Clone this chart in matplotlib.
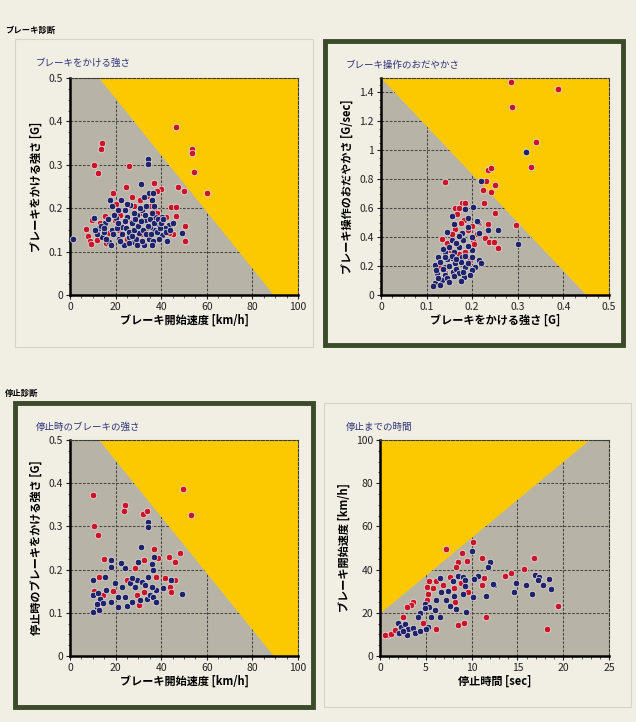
import matplotlib.pyplot as plt
from matplotlib.patches import Rectangle
from matplotlib.ticker import MultipleLocator, FormatStrFormatter

plt.rcParams["font.family"] = ["Noto Sans CJK JP", "DejaVu Sans"]

# ブレーキをかける強さ : speed [km/h] vs brake G
tl_red_speed = [46.7, 53.6, 53.3, 54.5, 59.9, 14.2, 13.4, 10.5, 12.3, 25.7, 47.2, 50.1, 36.9, 40.1, 24.5,
                18.7, 44.1, 46.7, 50.5, 50.5, 45.0, 6.9, 8.0, 8.8, 9.2, 27.2, 30.9, 38.2, 33.8, 36.7, 46.6,
                9.6, 15.2, 19.9, 24.3, 26.9, 30.9, 40.4, 43.3, 21.4, 17.0, 33.8, 29.9, 11.9, 35.0, 28.0,
                22.0, 13.0, 38.0, 42.0, 16.0, 25.0, 31.0, 20.0, 44.0]
tl_red_g = [0.387, 0.337, 0.328, 0.284, 0.234, 0.351, 0.337, 0.300, 0.281, 0.297, 0.248, 0.240, 0.257, 0.245,
            0.249, 0.234, 0.203, 0.203, 0.159, 0.125, 0.140, 0.153, 0.136, 0.125, 0.117, 0.225, 0.220, 0.240,
            0.228, 0.198, 0.181, 0.172, 0.182, 0.173, 0.196, 0.169, 0.188, 0.165, 0.142, 0.150, 0.142, 0.154,
            0.122, 0.126, 0.205, 0.205, 0.185, 0.165, 0.190, 0.180, 0.120, 0.130, 0.140, 0.210, 0.160]
tl_blue_speed = [1.2, 34.2, 34.2, 31.1, 17.7, 18.4, 22.5, 26.5, 31.6, 35.9, 34.8, 40.4, 43.3, 10.4, 15.5,
                 12.6, 18.4, 22.8, 27.2, 33.0, 37.4, 38.9, 30.1, 25.7, 21.4, 17.0, 34.5, 40.4, 14.0, 32.3,
                 23.5, 27.9, 36.7, 29.4, 25.0, 20.0, 14.8, 35.2, 41.8, 49.1, 42.6, 12.0, 13.5, 16.0, 19.0,
                 20.5, 21.0, 23.0, 24.0, 24.5, 26.0, 26.0, 28.0, 28.5, 29.0, 30.0, 31.0, 31.5, 32.0, 33.0,
                 33.5, 34.0, 35.0, 35.5, 36.0, 36.5, 37.0, 38.0, 38.5, 39.0, 39.5, 40.0, 41.0, 42.0, 44.0,
                 45.0, 30.5, 28.0, 33.5, 37.0, 25.0, 21.0, 19.5, 16.5, 15.0, 11.0, 27.0, 22.0, 18.0, 29.5,
                 36.0, 24.0, 32.5, 36.5]
tl_blue_g = [0.128, 0.313, 0.301, 0.255, 0.219, 0.204, 0.219, 0.207, 0.196, 0.219, 0.234, 0.180, 0.161,
             0.177, 0.165, 0.154, 0.150, 0.157, 0.165, 0.172, 0.180, 0.161, 0.142, 0.134, 0.130, 0.122,
             0.130, 0.138, 0.134, 0.115, 0.115, 0.122, 0.150, 0.184, 0.180, 0.177, 0.146, 0.157, 0.154,
             0.142, 0.125, 0.140, 0.160, 0.130, 0.140, 0.155, 0.165, 0.140, 0.170, 0.155, 0.145, 0.120,
             0.150, 0.175, 0.130, 0.160, 0.170, 0.125, 0.150, 0.185, 0.140, 0.160, 0.175, 0.140, 0.190,
             0.125, 0.165, 0.145, 0.175, 0.130, 0.155, 0.165, 0.175, 0.145, 0.150, 0.165, 0.200, 0.190,
             0.205, 0.205, 0.210, 0.195, 0.185, 0.175, 0.155, 0.150, 0.135, 0.125, 0.115, 0.115, 0.115,
             0.195, 0.225, 0.235]

# ブレーキ操作のおだやかさ : brake G vs G/sec
tr_red_g = [0.284, 0.287, 0.389, 0.341, 0.328, 0.141, 0.235, 0.242, 0.231, 0.251, 0.242, 0.223, 0.225,
            0.251, 0.297, 0.235, 0.257, 0.229, 0.237, 0.247, 0.177, 0.184, 0.162, 0.166, 0.183, 0.162,
            0.133, 0.202, 0.151, 0.195, 0.170, 0.175, 0.190, 0.200, 0.155, 0.210, 0.145, 0.170, 0.130,
            0.160, 0.185, 0.140, 0.125, 0.205, 0.215]
tr_red_rate = [1.473, 1.298, 1.427, 1.055, 0.885, 0.778, 0.865, 0.878, 0.790, 0.760, 0.711, 0.723, 0.635,
               0.570, 0.485, 0.490, 0.323, 0.393, 0.363, 0.363, 0.638, 0.638, 0.598, 0.558, 0.518, 0.454,
               0.390, 0.379, 0.311, 0.242, 0.600, 0.500, 0.450, 0.480, 0.420, 0.420, 0.360, 0.280, 0.200,
               0.220, 0.300, 0.150, 0.100, 0.350, 0.500]
tr_blue_g = [0.317, 0.220, 0.300, 0.257, 0.235, 0.213, 0.216, 0.184, 0.202, 0.156, 0.210, 0.191, 0.144,
             0.177, 0.155, 0.170, 0.140, 0.126, 0.155, 0.177, 0.199, 0.214, 0.118, 0.140, 0.162, 0.184,
             0.206, 0.122, 0.140, 0.158, 0.181, 0.118, 0.133, 0.115, 0.130, 0.145, 0.150, 0.165, 0.170,
             0.175, 0.190, 0.200, 0.160, 0.150, 0.135, 0.165, 0.180, 0.190, 0.200, 0.125, 0.145, 0.160,
             0.150, 0.130, 0.120, 0.135, 0.155, 0.170, 0.160, 0.190, 0.220, 0.195, 0.175, 0.140, 0.165,
             0.185, 0.200, 0.180]
tr_blue_rate = [0.986, 0.785, 0.353, 0.446, 0.450, 0.508, 0.427, 0.595, 0.606, 0.547, 0.511, 0.472, 0.438,
                0.426, 0.379, 0.334, 0.300, 0.265, 0.253, 0.265, 0.311, 0.242, 0.207, 0.196, 0.219, 0.196,
                0.196, 0.150, 0.139, 0.162, 0.127, 0.081, 0.104, 0.062, 0.230, 0.250, 0.200, 0.180, 0.150,
                0.230, 0.220, 0.260, 0.300, 0.330, 0.320, 0.360, 0.380, 0.340, 0.170, 0.120, 0.120, 0.130,
                0.090, 0.070, 0.170, 0.180, 0.270, 0.410, 0.490, 0.530, 0.220, 0.140, 0.100, 0.260, 0.250,
                0.270, 0.400, 0.160]

# 停止時のブレーキの強さ : speed [km/h] vs brake G at stop
bl_red_speed = [49.5, 53.0, 10.2, 10.5, 12.4, 24.1, 23.8, 31.8, 33.6, 36.9, 38.7, 32.6, 15.0, 43.5, 46.0,
                48.3, 28.5, 12.8, 18.7, 25.1, 37.9, 41.6, 46.0, 44.0, 44.5, 10.5, 14.6, 13.1, 29.2, 30.4,
                32.4]
bl_red_g = [0.386, 0.326, 0.373, 0.300, 0.281, 0.350, 0.336, 0.329, 0.336, 0.248, 0.226, 0.222, 0.225,
            0.230, 0.218, 0.239, 0.203, 0.182, 0.151, 0.176, 0.184, 0.180, 0.177, 0.160, 0.147, 0.151,
            0.141, 0.122, 0.141, 0.118, 0.149]
bl_blue_speed = [34.3, 34.3, 31.1, 36.8, 35.8, 18.2, 18.2, 22.2, 24.1, 30.0, 9.9, 15.3, 19.7, 22.6, 26.3,
                 29.6, 31.4, 34.3, 37.9, 40.9, 44.2, 49.2, 10.2, 12.4, 13.1, 15.8, 10.2, 11.7, 12.8, 14.3,
                 18.2, 21.2, 21.2, 24.1, 24.8, 27.4, 30.7, 33.6, 35.0, 36.5, 37.9, 28.5, 35.8, 36.5, 33.0,
                 27.0, 12.0]
bl_blue_g = [0.311, 0.298, 0.252, 0.230, 0.213, 0.222, 0.207, 0.216, 0.203, 0.218, 0.176, 0.182, 0.168,
             0.160, 0.170, 0.177, 0.172, 0.184, 0.153, 0.157, 0.177, 0.144, 0.141, 0.145, 0.133, 0.153,
             0.103, 0.114, 0.106, 0.123, 0.126, 0.136, 0.114, 0.136, 0.116, 0.126, 0.130, 0.131, 0.141,
             0.136, 0.126, 0.159, 0.159, 0.200, 0.165, 0.180, 0.120]

# 停止までの時間 : stop time [sec] vs speed [km/h]
br_red_time = [16.8, 15.7, 14.3, 13.6, 19.4, 18.2, 7.24, 10.1, 8.9, 8.5, 8.3, 9.5, 11.1, 11.4, 11.1, 8.8,
               7.6, 6.1, 6.9, 5.4, 5.1, 5.8, 8.1, 9.6, 5.2, 5.1, 3.6, 3.4, 2.9, 8.2, 2.5, 11.6, 6.1, 8.5,
               9.2, 4.7, 0.9, 0.5, 1.2, 1.6, 3.4]
br_red_speed = [45.5, 40.2, 38.3, 37.0, 23.1, 12.3, 49.4, 52.6, 47.5, 43.7, 41.4, 44.1, 45.2, 35.9, 32.9,
                34.0, 36.4, 34.5, 32.9, 34.5, 32.1, 31.3, 31.3, 29.8, 28.7, 25.7, 25.2, 23.6, 22.5, 25.2,
                17.9, 17.9, 12.5, 14.4, 15.5, 15.2, 9.7, 9.7, 10.4, 12.0, 12.3]
br_blue_time = [10.0, 12.0, 11.8, 12.4, 14.8, 14.6, 15.9, 16.6, 16.9, 17.4, 17.3, 17.8, 18.5, 18.7, 10.7,
                10.3, 12.3, 8.5, 9.1, 9.3, 8.0, 6.5, 6.7, 7.4, 9.3, 8.1, 9.1, 10.2, 11.6, 6.1, 4.9, 5.4,
                4.9, 7.2, 7.6, 8.3, 6.0, 4.4, 4.1, 5.6, 6.5, 9.4, 5.2, 2.0, 2.3, 2.7, 3.1, 2.1, 2.9, 3.6,
                3.8, 4.4, 5.0, 2.5]
br_blue_speed = [48.8, 43.7, 41.0, 32.9, 33.6, 29.5, 32.9, 28.7, 37.5, 36.4, 35.2, 32.9, 35.6, 30.9, 37.0,
                 35.5, 33.2, 37.0, 36.4, 35.2, 34.5, 36.0, 29.8, 30.2, 32.4, 27.8, 28.7, 27.2, 27.8, 25.9,
                 24.1, 22.5, 22.1, 25.9, 23.2, 21.7, 21.3, 20.1, 17.9, 17.9, 17.9, 20.6, 13.6, 15.2, 13.5,
                 14.6, 12.3, 10.6, 9.9, 13.0, 10.6, 11.4, 12.5, 11.5]

# boundary of the yellow (caution) zones
tl_zone_x = [12.7, 89.3, 100]
tl_zone_y = [0.5, 0.0, 0.0]
tr_zone_x = [0.0, 0.45, 0.5]
tr_zone_y = [1.5, 0.0, 0.0]
br_zone_x = [0.0, 22.8, 25.0]
br_zone_y = [20.0, 100.0, 100.0]

PAGE = "#f1efe4"
GRAY = "#b8b3a7"
YELLOW = "#fcc900"
RED = "#c8142c"
NAVY = "#1f226c"
TITLE = "#2c3178"
GREEN = "#3b4a2b"
W, H = 636, 722

fig = plt.figure(figsize=(6.36, 7.22), dpi=100, facecolor=PAGE)


def frame(x0, y0, x1, y1, thick):
    if thick:
        r = Rectangle((x0 / W, 1 - y1 / H), (x1 - x0) / W, (y1 - y0) / H, transform=fig.transFigure,
                      facecolor=PAGE, edgecolor=GREEN, linewidth=3.5, zorder=-5)
    else:
        r = Rectangle((x0 / W, 1 - y1 / H), (x1 - x0) / W, (y1 - y0) / H, transform=fig.transFigure,
                      facecolor=PAGE, edgecolor="#d6d4c8", linewidth=0.8, zorder=-5)
    fig.patches.append(r)


def panel(x0, y0, x1, y1, title, tx, ty, xlim, ylim, xstep, xminor, ystep, yminor):
    ax = fig.add_axes([x0 / W, 1 - y1 / H, (x1 - x0) / W, (y1 - y0) / H])
    ax.set_facecolor(GRAY)
    ax.set_xlim(*xlim)
    ax.set_ylim(*ylim)
    ax.xaxis.set_major_locator(MultipleLocator(xstep))
    ax.xaxis.set_minor_locator(MultipleLocator(xminor))
    ax.yaxis.set_major_locator(MultipleLocator(ystep))
    ax.yaxis.set_minor_locator(MultipleLocator(yminor))
    ax.xaxis.set_major_formatter(FormatStrFormatter("%g"))
    ax.yaxis.set_major_formatter(FormatStrFormatter("%g"))
    for s in ["top", "right"]:
        ax.spines[s].set_linestyle((0, (2.5, 1.5)))
        ax.spines[s].set_linewidth(0.8)
        ax.spines[s].set_color("#3a3a36")
    for s in ["left", "bottom"]:
        ax.spines[s].set_linewidth(1.8)
        ax.spines[s].set_color("black")
    ax.tick_params(which="major", length=3, width=0.8, labelsize=7.5, pad=2, colors="#222222")
    ax.tick_params(which="minor", length=1.8, width=0.6, colors="#444444")
    ax.set_axisbelow(True)
    ax.grid(True, which="major", color="#45453f", linestyle=(0, (2.5, 1.5)), linewidth=0.75)
    fig.text(tx / W, 1 - ty / H, title, fontsize=6.8, color=TITLE, ha="left", va="center")
    return ax


def dots(ax, rx, ry, bx, by):
    ax.scatter(rx, ry, s=22, color=RED, edgecolors="#ece9dc", linewidths=0.5, zorder=3)
    ax.scatter(bx, by, s=22, color=NAVY, edgecolors="#ece9dc", linewidths=0.5, zorder=3)


frame(15, 39, 313, 347, False)
frame(325, 41, 623, 345, True)
frame(15, 403, 313, 707, True)
frame(324, 403, 631, 707, False)

fig.text(5 / W, 1 - 30 / H, "ブレーキ診断", fontsize=6, fontweight="bold", va="center")
fig.text(5 / W, 1 - 393 / H, "停止診断", fontsize=6, fontweight="bold", va="center")

# top left
ax1 = panel(70, 78, 298, 295, "ブレーキをかける強さ", 36, 63, (0, 100), (0, 0.5), 20, 5, 0.1, 0.025)
ax1.fill_between(tl_zone_x, tl_zone_y, 0.5, color=YELLOW, linewidth=0, zorder=1)
dots(ax1, tl_red_speed, tl_red_g, tl_blue_speed, tl_blue_g)
ax1.set_xlabel("ブレーキ開始速度 [km/h]", fontsize=8, fontweight="bold", labelpad=1)
ax1.set_ylabel("ブレーキをかける強さ [G]", fontsize=8, fontweight="bold", labelpad=4)

# top right
ax2 = panel(381, 78, 609, 295, "ブレーキ操作のおだやかさ", 346, 65, (0, 0.5), (0, 1.5), 0.1, 0.025, 0.2, 0.05)
ax2.fill_between(tr_zone_x, tr_zone_y, 1.5, color=YELLOW, linewidth=0, zorder=1)
dots(ax2, tr_red_g, tr_red_rate, tr_blue_g, tr_blue_rate)
ax2.set_xlabel("ブレーキをかける強さ [G]", fontsize=8, fontweight="bold", labelpad=1)
ax2.set_ylabel("ブレーキ操作のおだやかさ [G/sec]", fontsize=8, fontweight="bold", labelpad=4)

# bottom left
ax3 = panel(70, 440, 298, 656, "停止時のブレーキの強さ", 36, 427, (0, 100), (0, 0.5), 20, 5, 0.1, 0.025)
ax3.fill_between(tl_zone_x, tl_zone_y, 0.5, color=YELLOW, linewidth=0, zorder=1)
dots(ax3, bl_red_speed, bl_red_g, bl_blue_speed, bl_blue_g)
ax3.set_xlabel("ブレーキ開始速度 [km/h]", fontsize=8, fontweight="bold", labelpad=1)
ax3.set_ylabel("停止時のブレーキをかける強さ [G]", fontsize=8, fontweight="bold", labelpad=4)

# bottom right
ax4 = panel(380, 440, 609, 656, "停止までの時間", 346, 427, (0, 25), (0, 100), 5, 1, 20, 5)
ax4.fill_between(br_zone_x, br_zone_y, 100, color=YELLOW, linewidth=0, zorder=1)
dots(ax4, br_red_time, br_red_speed, br_blue_time, br_blue_speed)
ax4.set_xlabel("停止時間 [sec]", fontsize=8, fontweight="bold", labelpad=1)
ax4.set_ylabel("ブレーキ開始速度 [km/h]", fontsize=8, fontweight="bold", labelpad=4)

fig.savefig("out.png", dpi=100, facecolor=PAGE)
